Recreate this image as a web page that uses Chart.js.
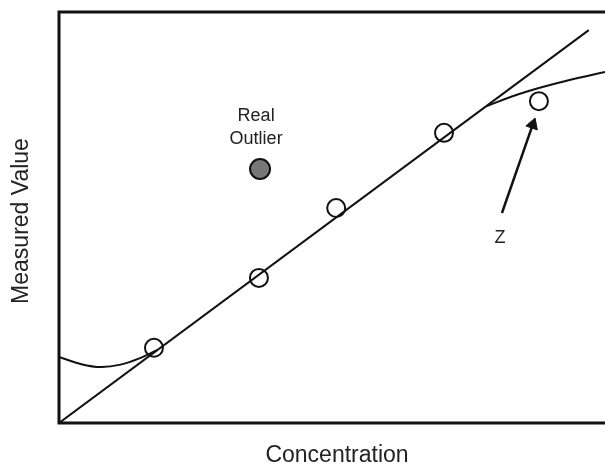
<!DOCTYPE html>
<html>
<head>
<meta charset="utf-8">
<script src="https://cdn.jsdelivr.net/npm/chart.js@4"></script>
<style>
html,body{margin:0;padding:0;background:#fff;overflow:hidden;}
</style>
</head>
<body>
<canvas id="c" width="605" height="467" style="width:605px;height:467px;display:block"></canvas>
<script>
// ---- data (arbitrary units) ----
const fitLine = [{x:0,y:0},{x:94.6,y:95.6}];
const measured = [{x:16.96,y:18.3},{x:35.7,y:35.3},{x:49.5,y:52.3},{x:68.75,y:70.6},{x:85.7,y:78.3}];
const outlier = [{x:35.9,y:61.8}];
const upperCurve = [{x:76.4,y:77.1},{x:81,y:79.5},{x:85.7,y:81.5},{x:91,y:83.4},{x:97.5,y:85.4}];
const lowerCurve = [{x:0,y:16.1},{x:4,y:14.3},{x:7.5,y:13.6},{x:11,y:14.2},{x:14.5,y:15.8},{x:17.5,y:17.7}];
const arrowLine = [{x:79.1,y:51.1},{x:84.6,y:72.6}];
const arrowHead = [{x:84.6,y:72.6}];
const notes = [
  {text:'Real', x:35.2, y:74.7},
  {text:'Outlier', x:35.2, y:69.1},
  {text:'Z', x:78.75, y:45.0}
];
const xTitle = 'Concentration';
const yTitle = 'Measured Value';

const FONT = '"Liberation Sans", Arial, sans-serif';

const framePlugin = {
  id:'frame',
  afterDatasetsDraw(chart){
    const {ctx, chartArea:a} = chart;
    ctx.save();
    ctx.strokeStyle = '#111';
    ctx.lineWidth = 3;
    ctx.beginPath();
    ctx.moveTo(a.right + 10, a.top);
    ctx.lineTo(a.left, a.top);
    ctx.lineTo(a.left, a.bottom);
    ctx.lineTo(a.right + 10, a.bottom);
    ctx.stroke();
    ctx.restore();
  }
};
const notesPlugin = {
  id:'notes',
  afterDraw(chart){
    const {ctx, scales:{x, y}} = chart;
    ctx.save();
    ctx.fillStyle = '#222';
    ctx.textAlign = 'center';
    ctx.textBaseline = 'middle';
    ctx.font = '18px ' + FONT;
    notes.forEach(n => ctx.fillText(n.text, x.getPixelForValue(n.x), y.getPixelForValue(n.y)));
    ctx.font = '23px ' + FONT;
    ctx.fillText(xTitle, 337, 456);
    ctx.translate(22, 221);
    ctx.rotate(-Math.PI / 2);
    ctx.fillText(yTitle, 0, 0);
    ctx.restore();
  }
};

const lineDs = (data, extra) => Object.assign({
  type:'line', data, borderColor:'#111', borderWidth:2, pointRadius:0, fill:false, tension:0
}, extra || {});

new Chart(document.getElementById('c'), {
  type:'scatter',
  data:{
    datasets:[
      {data:outlier, pointRadius:10, backgroundColor:'#777', borderColor:'#111', borderWidth:2},
      {data:measured, pointRadius:9, backgroundColor:'rgba(0,0,0,0)', borderColor:'#111', borderWidth:2},
      {data:arrowHead, pointStyle:'triangle', rotation:19, pointRadius:7, backgroundColor:'#111', borderColor:'#111', borderWidth:1},
      lineDs(arrowLine, {borderWidth:2.5}),
      lineDs(fitLine),
      lineDs(upperCurve, {tension:0.4}),
      lineDs(lowerCurve, {tension:0.4})
    ]
  },
  options:{
    responsive:false,
    animation:false,
    layout:{autoPadding:false, padding:{left:59, right:0, top:12, bottom:44}},
    plugins:{legend:{display:false}, tooltip:{enabled:false}},
    scales:{
      x:{type:'linear', min:0, max:97.5, display:false},
      y:{type:'linear', min:0, max:100, display:false}
    }
  },
  plugins:[framePlugin, notesPlugin]
});
</script>
</body>
</html>
